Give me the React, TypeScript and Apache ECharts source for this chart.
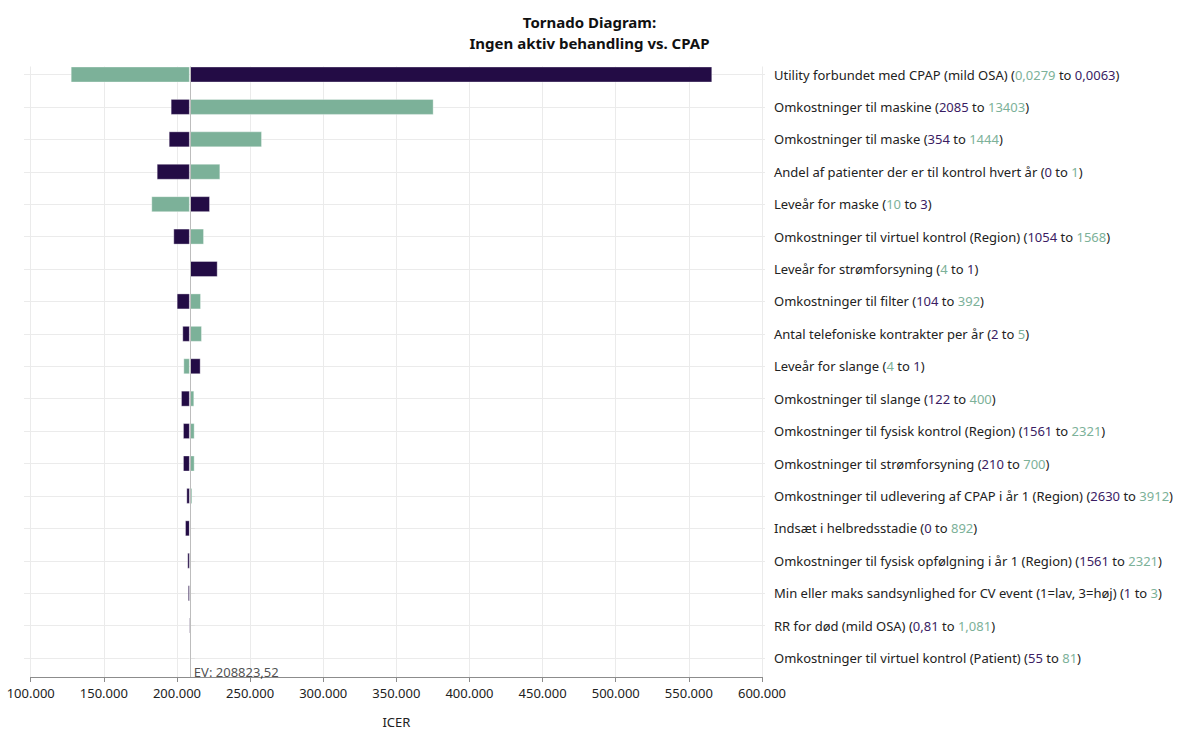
import React, { useEffect, useRef } from "react";
import * as echarts from "echarts";

const EV = 208823.52;

const categories = [
  "Utility forbundet med CPAP (mild OSA)",
  "Omkostninger til maskine",
  "Omkostninger til maske",
  "Andel af patienter der er til kontrol hvert år",
  "Leveår for maske",
  "Omkostninger til virtuel kontrol (Region)",
  "Leveår for strømforsyning",
  "Omkostninger til filter",
  "Antal telefoniske kontrakter per år",
  "Leveår for slange",
  "Omkostninger til slange",
  "Omkostninger til fysisk kontrol (Region)",
  "Omkostninger til strømforsyning",
  "Omkostninger til udlevering af CPAP i år 1 (Region)",
  "Indsæt i helbredsstadie",
  "Omkostninger til fysisk opfølgning i år 1 (Region)",
  "Min eller maks sandsynlighed for CV event (1=lav, 3=høj)",
  "RR for død (mild OSA)",
  "Omkostninger til virtuel kontrol (Patient)",
];

const fromValues = ["0,0279", "2085", "354", "0", "10", "1054", "4", "104", "2", "4", "122", "1561", "210", "2630", "0", "1561", "1", "0,81", "55"];
const toValues = ["0,0063", "13403", "1444", "1", "3", "1568", "1", "392", "5", "1", "400", "2321", "700", "3912", "892", "2321", "3", "1,081", "81"];

// ICER when the parameter is at its lower value (dark bars)
const icerLowParam = [566000, 195700, 194350, 186150, 222600, 197500, 227850, 199800, 203650, 216200, 202750, 204100, 204100, 206400, 205500, 207050, 207400, 207900, 208200];
// ICER when the parameter is at its higher value (green bars)
const icerHighParam = [127350, 375500, 258150, 229650, 182450, 218500, 208823.52, 216450, 217100, 204350, 211850, 212100, 212100, 210500, 208823.52, 209700, 209600, 209500, 209400];

const xMin = 100000;
const xMax = 600000;
const xInterval = 50000;

const DARK = "#230c45";
const GREEN = "#7cb199";
const FONT = "'Segoe UI', 'Noto Sans', 'Open Sans', sans-serif";

const num = (s: string) => parseFloat(s.replace(",", "."));
const fmtThousands = (v: number) => String(Math.round(v)).replace(/\B(?=(\d{3})+(?!\d))/g, ".");

export default function App() {
  const ref = useRef<HTMLDivElement>(null);
  useEffect(() => {
    if (!ref.current) return;
    const chart = echarts.init(ref.current, undefined, { renderer: "svg" });
    const pxPerUnit = 731.3 / (xMax - xMin);
    const aMin = xMin - 6.7 / pxPerUnit - EV;
    const aMax = xMax + 3 / pxPerUnit - EV;
    const labelStyle = { fontFamily: FONT, fontSize: 13, color: "#222" };
    const option: any = {
      animation: false,
      backgroundColor: "#fff",
      title: {
        text: "Tornado Diagram:\nIngen aktiv behandling vs. CPAP",
        left: "center",
        top: 6,
        textStyle: { fontFamily: FONT, fontWeight: "bold", fontSize: 15, lineHeight: 21, color: "#111" },
      },
      grid: [
        { left: 24, right: 1179 - 765, top: 74.5, bottom: 733 - 658, containLabel: false },
        { left: 30.7, right: 1179 - 762, top: 66.5, bottom: 733 - 682.3, containLabel: false },
      ],
      xAxis: [
        { gridIndex: 0, type: "value", min: aMin, max: aMax, show: false },
        {
          gridIndex: 1,
          type: "value",
          min: xMin,
          max: xMax,
          interval: xInterval,
          axisLine: { show: true, lineStyle: { color: "#8c8c8c", width: 1 } },
          axisTick: { show: true, length: 5, lineStyle: { color: "#8c8c8c" } },
          axisLabel: { ...labelStyle, margin: 9, formatter: (v: number) => fmtThousands(v) },
          splitLine: { show: true, lineStyle: { color: "#ebebeb", width: 1 } },
          name: "ICER",
          nameLocation: "middle",
          nameGap: 38,
          nameTextStyle: { ...labelStyle },
        },
      ],
      yAxis: [
        {
          gridIndex: 0,
          type: "category",
          data: categories,
          inverse: true,
          position: "right",
          boundaryGap: false,
          axisLine: { show: false },
          axisTick: { show: true, length: 5, lineStyle: { color: "#e2e2e2" } },
          splitLine: { show: true, lineStyle: { color: "#ebebeb", width: 1 } },
          axisLabel: {
            margin: 9,
            formatter: (name: string, idx: number) => {
              const a = fromValues[idx];
              const b = toValues[idx];
              const aHigh = num(a) > num(b);
              const sa = aHigh ? "g" : "d";
              const sb = aHigh ? "d" : "g";
              return `{n|${name} (}{${sa}|${a}}{n| to }{${sb}|${b}}{n|)}`;
            },
            rich: {
              n: { ...labelStyle },
              g: { ...labelStyle, color: GREEN },
              d: { ...labelStyle, color: "#3a1c63" },
            },
          },
        },
        { gridIndex: 1, type: "value", min: 0, max: 1, show: false },
      ],
      series: [
        {
          name: "ev",
          type: "scatter",
          xAxisIndex: 1,
          yAxisIndex: 1,
          symbolSize: 0,
          data: [[EV, 0.0086]],
          label: {
            show: true,
            position: "right",
            distance: 4,
            formatter: "EV: " + EV.toFixed(2).replace(".", ","),
            fontFamily: FONT,
            fontSize: 13,
            color: "#222",
          },
          markLine: {
            silent: true,
            symbol: ["none", "none"],
            label: { show: false },
            lineStyle: { color: "#bdbdbd", width: 1, type: "solid" },
            data: [{ xAxis: EV }],
          },
          z: 2,
        },
        {
          name: "low",
          type: "bar",
          xAxisIndex: 0,
          yAxisIndex: 0,
          barWidth: 16,
          barGap: "-100%",
          clip: false,
          data: icerLowParam.map((v) => v - EV),
          itemStyle: { color: DARK, borderColor: "rgba(255,255,255,0.35)", borderWidth: 1 },
          z: 3,
        },
        {
          name: "high",
          type: "bar",
          xAxisIndex: 0,
          yAxisIndex: 0,
          barWidth: 16,
          barGap: "-100%",
          clip: false,
          data: icerHighParam.map((v) => v - EV),
          itemStyle: { color: GREEN, borderColor: "rgba(255,255,255,0.35)", borderWidth: 1 },
          z: 3,
        },
      ],
    };
    chart.setOption(option);
    return () => chart.dispose();
  }, []);
  return <div ref={ref} style={{ position: "fixed", left: 0, top: 0, width: 1179, height: 733 }} />;
}
